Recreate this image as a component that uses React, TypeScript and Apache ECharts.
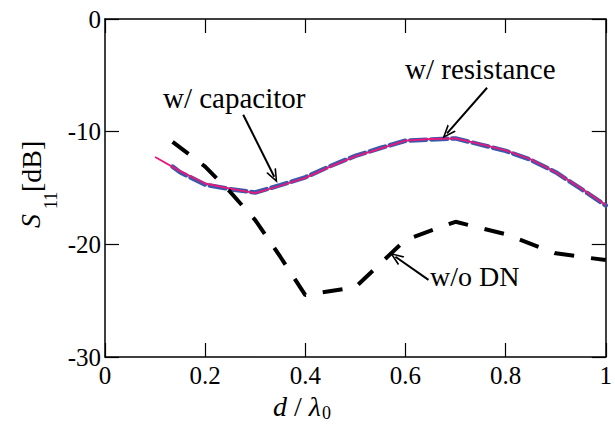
import React, { useEffect, useRef } from "react";
import * as echarts from "echarts";

// d / lambda0 values and S11 [dB] for each configuration
const dResistance = [0.1, 0.15, 0.2, 0.25, 0.3, 0.35, 0.4, 0.45, 0.5, 0.55, 0.6, 0.65, 0.7, 0.75, 0.8, 0.85, 0.9, 0.95, 1.0];
const s11Resistance = [-12.25, -13.5, -14.6, -15.05, -15.45, -14.8, -14.1, -13.1, -12.2, -11.5, -10.8, -10.65, -10.6, -11.1, -11.65, -12.45, -13.6, -15.0, -16.5];

const dCapacitor = [0.135, 0.15, 0.2, 0.25, 0.3, 0.35, 0.4, 0.45, 0.5, 0.55, 0.6, 0.65, 0.7, 0.75, 0.8, 0.85, 0.9, 0.95, 1.0];
const s11Capacitor = [-13.1, -13.6, -14.7, -15.1, -15.4, -14.75, -14.05, -13.05, -12.15, -11.45, -10.8, -10.7, -10.6, -11.15, -11.7, -12.5, -13.6, -15.05, -16.55];

const dNoDN = [0.135, 0.2, 0.25, 0.3, 0.35, 0.4, 0.5, 0.6, 0.7, 0.8, 0.9, 1.0];
const s11NoDN = [-10.9, -13.1, -15.35, -17.85, -21.1, -24.5, -23.8, -19.6, -18.0, -19.1, -20.8, -21.4];

const xTicks = [0, 0.2, 0.4, 0.6, 0.8, 1];
const yTicks = [-30, -20, -10, 0];

// annotation arrows: [tailD, tailS11, headD, headS11]
const arrowCapacitor = [0.276, -8.5, 0.338, -14.0];
const arrowResistance = [0.763, -6.1, 0.683, -10.15];
const arrowNoDN = [0.646, -23.15, 0.58, -21.1];

const FONT = "Liberation Serif, Times New Roman, serif";
const ARROW = "path://M5,0 L10,14 L8.4,14 L5,4.2 L1.6,14 L0,14 Z";

const pairs = (xs: number[], ys: number[]) => xs.map((x, i) => [x, ys[i]]);

const arrow = (a: number[]) => [
  { coord: [a[0], a[1]], symbol: "none" },
  { coord: [a[2], a[3]], symbol: ARROW, symbolSize: [11, 14] },
];

const txt = (text: string, size: number, extra: any = {}) => ({
  text, fontFamily: FONT, fontSize: size, fill: "#000", ...extra,
});

export default function App() {
  const ref = useRef<HTMLDivElement>(null);
  useEffect(() => {
    const chart = echarts.init(ref.current!, null, { renderer: "svg" });
    const axisLine = { show: true, onZero: false, lineStyle: { color: "#000", width: 1.5 } };
    const axisTick = { show: true, inside: true, length: 14, lineStyle: { color: "#000", width: 1.2 } };
    const label = { color: "#000", fontFamily: FONT, fontSize: 25 };
    chart.setOption({
      animation: false,
      backgroundColor: "#fff",
      textStyle: { fontFamily: FONT },
      grid: { left: 105, right: 9, top: 19, bottom: 68, containLabel: false },
      xAxis: [
        {
          type: "value", position: "bottom", min: xTicks[0], max: xTicks[xTicks.length - 1], interval: 0.2,
          axisLine, axisTick, splitLine: { show: false },
          axisLabel: { ...label, margin: 6, formatter: (v: number) => String(Math.round(v * 10) / 10) },
        },
        {
          type: "value", position: "top", min: xTicks[0], max: xTicks[xTicks.length - 1], interval: 0.2,
          axisLine, axisTick, splitLine: { show: false }, axisLabel: { show: false },
        },
      ],
      yAxis: [
        {
          type: "value", position: "left", min: yTicks[0], max: yTicks[yTicks.length - 1], interval: 10,
          axisLine, axisTick, splitLine: { show: false },
          axisLabel: { ...label, margin: 4 },
        },
        {
          type: "value", position: "right", min: yTicks[0], max: yTicks[yTicks.length - 1], interval: 10,
          axisLine, axisTick, splitLine: { show: false }, axisLabel: { show: false },
        },
      ],
      series: [
        {
          name: "w/ capacitor", type: "line", data: pairs(dCapacitor, s11Capacitor),
          showSymbol: false, symbol: "none",
          lineStyle: { color: "#3b58aa", width: 4.5, type: [16, 5], cap: "round" },
        },
        {
          name: "w/ resistance", type: "line", data: pairs(dResistance, s11Resistance),
          showSymbol: false, symbol: "none",
          lineStyle: { color: "#e8197c", width: 1.8 },
        },
        {
          name: "w/o DN", type: "line", data: pairs(dNoDN, s11NoDN),
          showSymbol: false, symbol: "none",
          lineStyle: { color: "#000", width: 4, type: [20, 17] },
          markLine: {
            silent: true, animation: false,
            label: { show: false },
            lineStyle: { color: "#000", width: 2, type: "solid" },
            emphasis: { disabled: true },
            data: [arrow(arrowCapacitor), arrow(arrowResistance), arrow(arrowNoDN)],
          },
        },
      ],
      graphic: [
        { type: "text", left: 163, top: 83, style: txt("w/ capacitor", 29) },
        { type: "text", left: 405, top: 54, style: txt("w/ resistance", 29) },
        { type: "text", left: 430, top: 262, style: txt("w/o DN", 28) },
        {
          type: "text", x: 273, y: 392,
          style: {
            text: "{i|d}{n| / }{i|λ}", fill: "#000",
            rich: {
              i: { fontFamily: FONT, fontSize: 28, fontStyle: "italic", fill: "#000" },
              n: { fontFamily: FONT, fontSize: 28, fill: "#000" },
            },
          },
        },
        { type: "text", x: 322, y: 404, style: txt("0", 18) },
        {
          type: "text", x: 30, y: 228, rotation: Math.PI / 2,
          style: txt("S", 28, { fontStyle: "italic", textAlign: "left", textVerticalAlign: "middle" }),
        },
        {
          type: "text", x: 51, y: 209, rotation: Math.PI / 2,
          style: txt("11", 18, { textAlign: "left", textVerticalAlign: "middle" }),
        },
        {
          type: "text", x: 31, y: 192, rotation: Math.PI / 2,
          style: txt("[dB]", 28, { textAlign: "left", textVerticalAlign: "middle" }),
        },
      ],
    });
    return () => chart.dispose();
  }, []);
  return <div ref={ref} style={{ width: 615, height: 425, position: "absolute", left: 0, top: 0 }} />;
}
